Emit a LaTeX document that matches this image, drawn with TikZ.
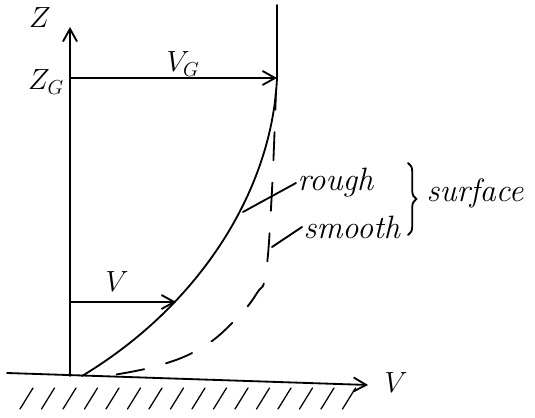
\documentclass[tikz,border=0pt]{standalone}
\usetikzlibrary{arrows.meta,decorations.pathreplacing}
\tikzset{
  hand/.style={line width=1.3pt,line cap=round},
  lbl/.style={inner sep=1pt,font=\fontsize{22}{26}\selectfont},
  word/.style={inner sep=1pt,font=\fontsize{23}{27}\selectfont\itshape},
  hatch/.style={line width=0.9pt,line cap=round},
}
\begin{document}
\begin{tikzpicture}[>={Straight Barb[length=9pt,width=10pt]},x=0.025cm,y=-0.025cm]
\useasboundingbox (0,0) rectangle (535,418);
% points of the sketch
\coordinate (O) at (70,376);
\coordinate (ztop) at (70,27);
\coordinate (zg) at (70,78);
\coordinate (vg) at (277,78);
\coordinate (wtop) at (277,5);
\coordinate (zv) at (70,302);
\coordinate (vtip) at (176,302);
\coordinate (foot) at (82,376);
\coordinate (gl) at (7,373);
\coordinate (gr) at (368,385);
% axes
\draw[hand,->] (O) -- (ztop);
\draw[hand,->] (gl) -- (gr);
\node[lbl] (zlab) at (40,18) {$Z$};
\node[lbl] (vlab) at (396,383) {$V$};
% gradient height
\draw[hand] (wtop) -- (vg);
\draw[hand,->] (zg) -- (vg);
\node[lbl] (zglab) at (46,82) {$Z_G$};
\node[lbl] (vglab) at (183,64) {$V_G$};
% rough surface profile
\draw[hand] (foot) .. controls (200,305) and (272,190) .. (vg);
\draw[hand,->] (zv) -- (vtip);
\node[lbl] (vvlab) at (117,282) {$V$};
% smooth surface profile
\draw[hand,dash pattern=on 20pt off 16pt,dash phase=-30pt] plot[smooth,tension=0.7] coordinates
  {(276,90) (272,190) (266,272) (257,293) (237,318) (203,347) (157,366) (100,377)};
% labels
\coordinate (rl) at (243,212);
\coordinate (sl) at (272,247);
\node[word,anchor=west] (rough) at (296,183) {rough};
\node[word,anchor=west] (smooth) at (302,227) {smooth};
\draw[hand] (rl) -- (rough.west);
\draw[hand] (sl) -- (smooth.west);
\draw[hand,decorate,decoration={brace,amplitude=6pt}] (408,163) -- (408,235);
\node[word,anchor=west] (surf) at (425,193) {surface};
% ground hatching
\foreach \i in {0,...,15}
  \draw[hatch] ({20+21.5*\i},409) -- ({33+21.5*\i},388);
\end{tikzpicture}
\end{document}
